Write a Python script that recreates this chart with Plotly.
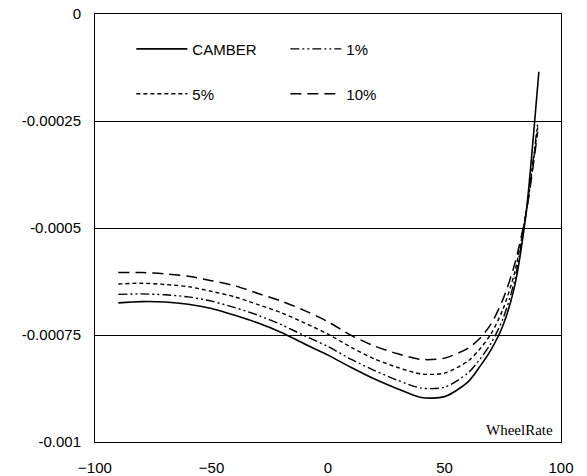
import plotly.graph_objects as go

# Data
x_camber = [-90, -80, -70, -60, -50, -40, -30, -20, -10, 0, 10, 20, 30, 40, 50, 60, 65, 70, 75, 80, 85, 88, 90.5]
camber = [-0.000675, -0.000672, -0.000673, -0.000678, -0.000688, -0.000704, -0.000722, -0.000744,
          -0.000771, -0.000797, -0.000826, -0.000853, -0.000876, -0.000896, -0.000894, -0.000860,
          -0.000825, -0.000784, -0.000729, -0.000638, -0.000466, -0.000295, -0.000135]

x_pct = [-90, -80, -70, -60, -50, -40, -30, -20, -10, 0, 10, 20, 30, 40, 50, 60, 65, 70, 75, 80, 85, 90]
pct1 = [-0.000655, -0.000654, -0.000656, -0.000661, -0.000671, -0.000686, -0.000704, -0.000726,
        -0.000752, -0.000777, -0.000807, -0.000833, -0.000856, -0.000874, -0.000872, -0.000839,
        -0.000808, -0.000769, -0.000713, -0.000624, -0.000466, -0.000255]
pct5 = [-0.000631, -0.000629, -0.000632, -0.000637, -0.000648, -0.000661, -0.000679, -0.000698,
        -0.000722, -0.000748, -0.000779, -0.000806, -0.000826, -0.000841, -0.000839, -0.000811,
        -0.000784, -0.000747, -0.000691, -0.000606, -0.000466, -0.000265]
pct10 = [-0.000604, -0.000604, -0.000607, -0.000613, -0.000623, -0.000635, -0.000653, -0.000671,
         -0.000693, -0.000719, -0.000751, -0.000776, -0.000794, -0.000807, -0.000804, -0.000781,
         -0.000759, -0.000724, -0.000668, -0.000587, -0.000466, -0.000275]

y_tickvals = [0, -0.00025, -0.0005, -0.00075, -0.001]
y_ticktext = ["0", "-0.00025", "-0.0005", "-0.00075", "-0.001"]
x_tickvals = [-100, -50, 0, 50, 100]

FONT = "Liberation Sans, Arial, sans-serif"

fig = go.Figure()
fig.add_trace(go.Scatter(x=x_camber, y=camber, name="CAMBER", mode="lines",
                         line=dict(color="black", width=1.6, shape="spline", smoothing=0.8),
                         legend="legend"))
fig.add_trace(go.Scatter(x=x_pct, y=pct1, name="1%", mode="lines",
                         line=dict(color="black", width=1.4, shape="spline", smoothing=0.8,
                                   dash="9px,3px,2px,3px,2px,3px"),
                         legend="legend"))
fig.add_trace(go.Scatter(x=x_pct, y=pct5, name="5%", mode="lines",
                         line=dict(color="black", width=1.4, shape="spline", smoothing=0.8,
                                   dash="4px,3px"),
                         legend="legend2"))
fig.add_trace(go.Scatter(x=x_pct, y=pct10, name="10%", mode="lines",
                         line=dict(color="black", width=1.5, shape="spline", smoothing=0.8,
                                   dash="11px,6px"),
                         legend="legend2"))

legend_common = dict(orientation="h", xanchor="left", yanchor="middle",
                     font=dict(family=FONT, size=15, color="black"),
                     bgcolor="rgba(0,0,0,0)", borderwidth=0,
                     entrywidth=88, entrywidthmode="pixels", itemwidth=51,
                     traceorder="normal")

fig.update_layout(
    width=587, height=476,
    margin=dict(l=95, r=26, t=14, b=34, autoexpand=False),
    paper_bgcolor="white", plot_bgcolor="white",
    font=dict(family=FONT, size=15, color="black"),
    showlegend=True,
    legend=dict(x=0.078, y=0.918, **legend_common),
    legend2=dict(x=0.078, y=0.813, **legend_common),
    xaxis=dict(range=[-100, 100], tickvals=x_tickvals, showgrid=False, zeroline=False,
               showline=True, linecolor="black", linewidth=1, mirror=True,
               ticks="", ticklabelstandoff=12, automargin=False,
               tickfont=dict(family=FONT, size=15, color="black")),
    yaxis=dict(range=[-0.001, 0], tickvals=y_tickvals, ticktext=y_ticktext,
               showgrid=True, gridcolor="black", gridwidth=1.3, zeroline=False,
               showline=True, linecolor="black", linewidth=1, mirror=True,
               ticks="", ticklabelstandoff=10, automargin=False,
               tickfont=dict(family=FONT, size=15, color="black")),
    annotations=[dict(text="WheelRate", xref="paper", yref="paper", x=0.987, y=0.028,
                      xanchor="right", yanchor="middle", showarrow=False,
                      font=dict(family="Liberation Serif, Times New Roman, serif", size=15,
                                color="black"))],
)

fig.write_html("out.html")
